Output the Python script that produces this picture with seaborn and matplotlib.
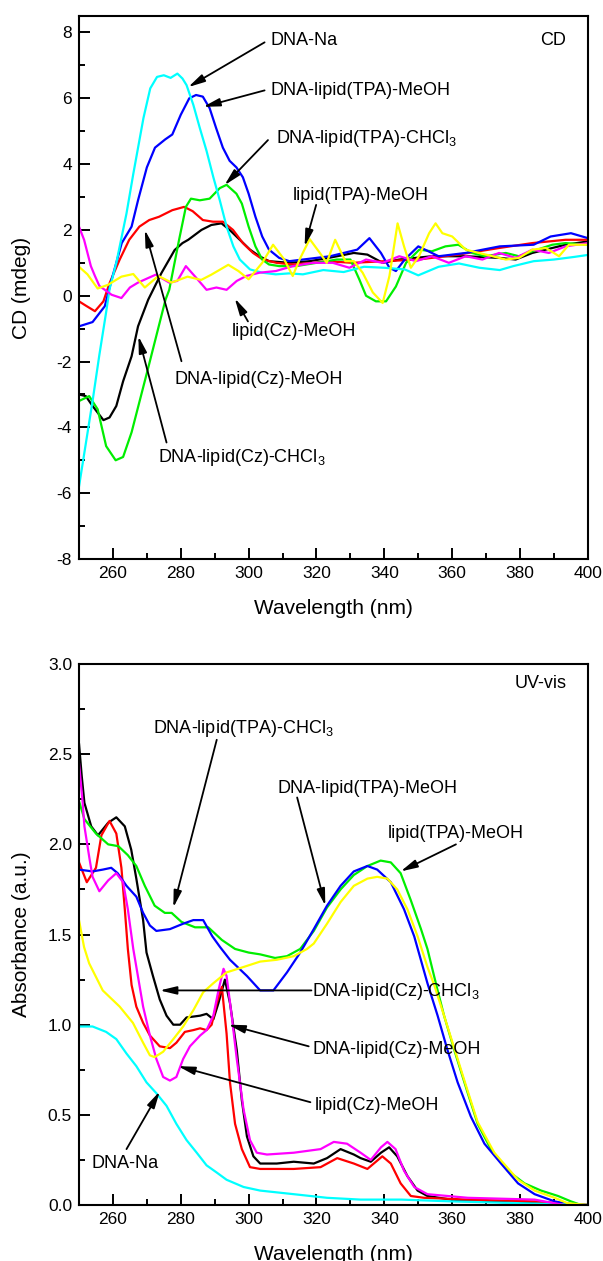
import matplotlib
matplotlib.use("Agg")
import matplotlib.pyplot as plt
from matplotlib.ticker import MultipleLocator, FormatStrFormatter
import pandas as pd
import seaborn as sns

# ---------------- sample names and colours ----------------
samples = ["DNA-lipid(Cz)-CHCl3", "DNA-lipid(Cz)-MeOH", "DNA-lipid(TPA)-CHCl3",
           "DNA-lipid(TPA)-MeOH", "DNA-Na", "lipid(Cz)-MeOH", "lipid(TPA)-MeOH"]
colors = ["#000000", "#FF0000", "#00EE00", "#0000FF", "#00FFFF", "#FF00FF", "#FFFF00"]

# ---------------- CD spectra (mdeg) ----------------
cd_na_wl = [250, 252, 254, 256, 258, 259, 261, 264, 266, 269, 271, 273, 275, 277, 279, 280.5,
            281.7, 283.7, 285.6, 287.6, 289.6, 291.5, 293.5, 295.5, 297.4, 300.4, 304, 308, 312,
            316, 322, 328, 334, 340, 346, 350, 356, 362, 368, 374, 378, 384, 390, 396, 400]
cd_na = [-5.8, -4.5, -3.2, -1.8, -0.5, 0.2, 1.0, 2.5, 3.7, 5.4, 6.3, 6.65, 6.7, 6.62, 6.75, 6.6,
         6.4, 5.8, 5.1, 4.4, 3.6, 2.9, 2.1, 1.5, 1.1, 0.8, 0.7, 0.65, 0.68,
         0.65, 0.78, 0.72, 0.88, 0.85, 0.8, 0.62, 0.88, 0.98, 0.85, 0.78, 0.9, 1.05, 1.1, 1.18, 1.24]

cd_tpa_meoh_wl = [250, 254, 257.6, 259.6, 262.6, 265.5, 267.4, 270, 272.4, 275.4, 277.5, 280, 282.5,
                  284.5, 286.5, 288.5, 290.4, 292.4, 294.4, 296.4, 298.3, 300, 302, 304, 306, 309,
                  312, 316, 320, 324, 328, 332, 335.6, 339, 341.5, 343.4, 346, 350, 356, 364, 374,
                  384, 389, 395, 400]
cd_tpa_meoh = [-0.93, -0.8, -0.32, 0.48, 1.6, 2.1, 2.9, 3.9, 4.5, 4.75, 4.9, 5.5, 6.0,
               6.1, 6.05, 5.7, 5.1, 4.5, 4.1, 3.9, 3.6, 3.1, 2.4, 1.8, 1.4, 1.15,
               1.05, 1.1, 1.15, 1.2, 1.3, 1.4, 1.75, 1.3, 0.85, 0.75, 1.1, 1.5, 1.2, 1.3, 1.5,
               1.55, 1.8, 1.9, 1.75]

cd_tpa_chcl3_wl = [250, 253, 255.5, 258, 260.8, 263, 265.5, 268.5, 270.5, 273.5, 275.5, 276.6,
                   279.5, 281.5, 283, 285.6, 288.5, 291.5, 293.5, 296.4, 298, 300, 302, 304, 306,
                   309, 314, 320, 326, 330, 332.6, 334.6, 337.5, 340.5, 343.4, 346.4, 350.3, 354,
                   358, 361.8, 365.8, 369.7, 375.8, 379.7, 383.6, 389.5, 393.4, 400]
cd_tpa_chcl3 = [-3.2, -3.05, -3.45, -4.57, -5.0, -4.9, -4.15, -2.95, -2.15, -0.93, -0.12, 0.18,
                1.7, 2.7, 2.95, 2.9, 2.95, 3.27, 3.37, 3.1, 2.8, 2.1, 1.5, 1.1, 0.95,
                0.9, 0.9, 1.0, 1.1, 1.1, 0.5, 0.0, -0.17, -0.17, 0.28, 1.0, 1.4, 1.35,
                1.5, 1.55, 1.3, 1.2, 1.3, 1.2, 1.35, 1.55, 1.6, 1.55]

cd_cz_meoh_wl = [250, 252, 254.7, 257.2, 259, 262, 264.8, 267.8, 270.7, 273.6, 277.5, 281, 283.5,
                 286.5, 289.5, 292.4, 295.4, 298.3, 301.3, 304.2, 308.2, 313, 319, 323, 330.6,
                 340, 350, 361.8, 373.8, 383.6, 393.4, 400]
cd_cz_meoh = [-0.17, -0.3, -0.47, -0.17, 0.38, 1.1, 1.7, 2.1, 2.3, 2.4, 2.6, 2.7, 2.57,
              2.3, 2.25, 2.25, 2.0, 1.6, 1.3, 1.1, 1.0, 0.95, 1.0, 1.05, 1.0,
              1.05, 1.1, 1.25, 1.45, 1.6, 1.7, 1.7]

cd_cz_chcl3_wl = [250, 252, 254, 257.2, 259, 261, 263, 265.5, 267.4, 270.4, 274.3, 278.2, 280.5,
                  282.2, 286.1, 289, 292, 294.4, 297.4, 300.4, 303.2, 306, 312, 318, 323.6, 331,
                  335, 339.5, 344.4, 354, 364, 373.8, 378.7, 383.6, 393.4, 400]
cd_cz_chcl3 = [-3.0, -3.05, -3.35, -3.78, -3.7, -3.35, -2.6, -1.84, -0.93, -0.12, 0.69, 1.39, 1.6,
               1.7, 2.0, 2.15, 2.2, 2.0, 1.7, 1.4, 1.2, 1.05, 1.0, 1.05, 1.15, 1.3,
               1.25, 1.0, 1.1, 1.2, 1.2, 1.15, 1.1, 1.3, 1.55, 1.65]

cd_lip_tpa_wl = [250, 252.5, 255.5, 258.5, 262.5, 266, 269.4, 273.4, 277.3, 282, 286, 289, 294,
                 297, 300, 304, 307.2, 310.5, 313, 315, 318, 321, 323, 325.5, 328.5, 331, 333.6,
                 336.6, 339.5, 341.5, 343.9, 345.8, 347.8, 350.2, 353.2, 355.1, 357.1, 360, 364,
                 367.9, 371.9, 375.8, 379.7, 383.6, 387.6, 391.5, 394.4, 400]
cd_lip_tpa = [0.88, 0.65, 0.22, 0.33, 0.58, 0.66, 0.25, 0.6, 0.4, 0.58, 0.48, 0.64, 0.94,
              0.75, 0.5, 1.0, 1.55, 1.1, 0.6, 1.1, 1.72, 1.3, 1.0, 1.7, 1.05, 1.05, 0.7,
              0.1, -0.22, 0.6, 2.2, 1.5, 0.85, 1.2, 1.9, 2.2, 1.9, 1.8, 1.4,
              1.3, 1.2, 1.1, 1.15, 1.4, 1.45, 1.2, 1.55, 1.55]

cd_lip_cz_wl = [250, 251.5, 253.5, 254.7, 256, 259.6, 262.5, 265, 267.4, 272.6, 276.6, 279,
                281.5, 284.5, 287.6, 290.5, 293.5, 296.5, 299.3, 303.2, 308, 313, 319, 324.8,
                329.7, 334.6, 339.5, 344.4, 349.3, 354, 359, 364, 368.9, 373.8, 378.7, 383.6,
                388.5, 393.4, 400]
cd_lip_cz = [2.1, 1.7, 0.9, 0.6, 0.3, 0.03, -0.07, 0.25, 0.4, 0.64, 0.4, 0.45,
             0.9, 0.55, 0.18, 0.25, 0.18, 0.45, 0.6, 0.7, 0.75, 0.9, 1.0, 1.0,
             0.85, 1.1, 1.0, 1.2, 1.05, 1.2, 1.0, 1.2, 1.1, 1.3, 1.15, 1.4,
             1.3, 1.5, 1.6]

# ---------------- UV-vis absorbance (a.u.) ----------------
uv_cz_chcl3_wl = [250, 250.8, 251.6, 253.6, 255.6, 258.6, 261, 263.5, 265.4, 266.9, 268.9, 269.9,
                  271.8, 273.8, 275.8, 277.8, 279.8, 281.7, 285.7, 287.6, 289.6, 291.1, 293.0,
                  294.5, 296.5, 298, 299.5, 301.4, 303.4, 308.3, 313.3, 319.2, 323.1, 327.1, 331,
                  333, 336, 339, 341.4, 343.8, 346.8, 349.8, 352.7, 359.6, 369.5, 384.3, 400]
uv_cz_chcl3 = [2.56, 2.38, 2.23, 2.1, 2.05, 2.12, 2.15, 2.1, 1.97, 1.81, 1.58, 1.4,
               1.27, 1.14, 1.05, 1.0, 1.0, 1.04, 1.05, 1.06, 1.03, 1.12, 1.25,
               1.12, 0.86, 0.58, 0.38, 0.27, 0.23, 0.23, 0.24, 0.23, 0.26, 0.31, 0.28,
               0.26, 0.24, 0.29, 0.32, 0.27, 0.16, 0.08, 0.05, 0.03, 0.02, 0.01, 0.0]

uv_cz_meoh_wl = [250, 252.3, 255, 256.6, 259, 261, 262.5, 263.5, 264.4, 265.5, 266.9, 268.9,
                 270.9, 273.8, 276.8, 278.7, 281.2, 283.7, 285.7, 287.6, 289.1, 290.6, 292.1,
                 293.5, 294.5, 296, 298, 300.4, 303.4, 313.3, 321.2, 326.1, 331, 335, 339.4,
                 341.9, 344.8, 347.8, 351.7, 364.6, 384.3, 400]
uv_cz_meoh = [1.9, 1.79, 1.87, 2.05, 2.13, 2.06, 1.87, 1.64, 1.42, 1.22, 1.1, 1.01,
              0.94, 0.88, 0.87, 0.9, 0.96, 0.97, 0.98, 0.97, 1.0, 1.12, 1.21,
              0.95, 0.68, 0.45, 0.31, 0.21, 0.2, 0.2, 0.21, 0.26, 0.23, 0.2, 0.27,
              0.23, 0.12, 0.05, 0.04, 0.03, 0.02, 0.0]

uv_tpa_chcl3_wl = [250, 251.6, 255, 258.6, 261.6, 264.4, 266.9, 269.4, 272.3, 275.3, 277.3, 280.2,
                   284.2, 288.1, 292.1, 296, 300, 303.4, 307.8, 311.3, 315.2, 319.2, 323.1, 327.1,
                   331, 335, 338.9, 341.9, 344.8, 347.8, 350.8, 352.7, 355.7, 357.6, 360.6, 364.6,
                   367.5, 371.4, 376.4, 381.3, 386.2, 391.2, 395, 398, 400]
uv_tpa_chcl3 = [2.24, 2.14, 2.06, 2.0, 1.99, 1.94, 1.88, 1.77, 1.66, 1.62, 1.62, 1.57,
                1.54, 1.54, 1.47, 1.42, 1.4, 1.39, 1.37, 1.38, 1.42, 1.52, 1.65, 1.75,
                1.83, 1.88, 1.91, 1.9, 1.84, 1.69, 1.53, 1.42, 1.19, 1.05, 0.86, 0.62,
                0.45, 0.31, 0.19, 0.12, 0.08, 0.05, 0.02, 0.0, 0.0]

uv_tpa_meoh_wl = [250, 254, 257, 259.5, 261.4, 264, 266.9, 268.9, 270.9, 272.8, 276.8, 280.7,
                  283.7, 286.6, 289.3, 291.6, 294.5, 299.5, 303.4, 307.3, 311.3, 315.2, 319.2,
                  323.1, 327.1, 331, 335, 337.9, 341.9, 345.8, 348.8, 352.7, 355.7, 358.6, 361.6,
                  365.5, 369.5, 374.4, 379.4, 384.3, 390.2, 396, 400]
uv_tpa_meoh = [1.86, 1.85, 1.86, 1.87, 1.84, 1.77, 1.71, 1.62, 1.55, 1.52, 1.53, 1.56,
               1.58, 1.58, 1.49, 1.43, 1.36, 1.27, 1.19, 1.19, 1.29, 1.4, 1.53,
               1.66, 1.77, 1.85, 1.88, 1.86, 1.79, 1.64, 1.49, 1.23, 1.05, 0.86, 0.68,
               0.49, 0.34, 0.23, 0.12, 0.06, 0.02, 0.0, 0.0]

uv_na_wl = [250, 254, 258, 261, 264, 266.9, 269.9, 272.8, 275.8, 278.7, 281.7, 284.7, 287.6,
            290.6, 293.5, 298.5, 303.4, 313.3, 323.1, 333, 345, 360, 380, 400]
uv_na = [0.99, 0.99, 0.96, 0.92, 0.84, 0.77, 0.68, 0.62, 0.55, 0.45, 0.36, 0.29, 0.22,
         0.18, 0.14, 0.1, 0.08, 0.06, 0.04, 0.03, 0.03, 0.02, 0.01, 0.0]

uv_lip_cz_wl = [250, 251, 251.6, 253.1, 254, 256, 258.6, 261, 263, 264.4, 266, 268.9, 270.9,
                272.8, 274.8, 276.8, 278.7, 280.7, 282.7, 285.7, 287.6, 289.6, 291.1, 292.6,
                293.5, 295, 296.5, 298.5, 300.4, 302.4, 305.4, 313.3, 321.2, 325.1, 329, 333,
                336, 339, 340.9, 343.3, 345.8, 348.8, 352.7, 364.6, 384.3, 393, 400]
uv_lip_cz = [2.45, 2.25, 2.1, 1.92, 1.82, 1.74, 1.8, 1.84, 1.79, 1.64, 1.42, 1.1, 0.94,
             0.81, 0.71, 0.69, 0.71, 0.81, 0.88, 0.94, 0.97, 1.05, 1.19, 1.31,
             1.27, 1.05, 0.81, 0.53, 0.36, 0.29, 0.28, 0.29, 0.31, 0.35, 0.34, 0.29,
             0.25, 0.32, 0.35, 0.31, 0.19, 0.1, 0.06, 0.04, 0.03, 0.0, 0.0]

uv_lip_tpa_wl = [250, 251.5, 253, 257, 262, 265.9, 268.9, 270.9, 272.3, 274.8, 277.8, 280.7,
                 283.7, 286.6, 289.6, 293.5, 298.5, 303.4, 308.3, 313.3, 317.2, 319.2, 323.1,
                 327.1, 331, 335, 337.9, 340.9, 343.8, 346.8, 349.8, 352.7, 354.7, 357.6, 360.6,
                 364.6, 367.5, 372.4, 379.4, 384.3, 390.2, 394, 400]
uv_lip_tpa = [1.58, 1.43, 1.34, 1.19, 1.1, 1.01, 0.9, 0.83, 0.82, 0.85, 0.92, 0.99,
              1.08, 1.18, 1.23, 1.29, 1.32, 1.35, 1.36, 1.38, 1.42, 1.45, 1.56,
              1.68, 1.77, 1.81, 1.82, 1.81, 1.75, 1.64, 1.49, 1.32, 1.22, 1.05, 0.87,
              0.63, 0.46, 0.29, 0.14, 0.08, 0.04, 0.01, 0.0]

cd_series = {
    "DNA-lipid(Cz)-CHCl3": (cd_cz_chcl3_wl, cd_cz_chcl3),
    "DNA-lipid(Cz)-MeOH": (cd_cz_meoh_wl, cd_cz_meoh),
    "DNA-lipid(TPA)-CHCl3": (cd_tpa_chcl3_wl, cd_tpa_chcl3),
    "DNA-lipid(TPA)-MeOH": (cd_tpa_meoh_wl, cd_tpa_meoh),
    "DNA-Na": (cd_na_wl, cd_na),
    "lipid(Cz)-MeOH": (cd_lip_cz_wl, cd_lip_cz),
    "lipid(TPA)-MeOH": (cd_lip_tpa_wl, cd_lip_tpa),
}
uv_series = {
    "DNA-lipid(Cz)-CHCl3": (uv_cz_chcl3_wl, uv_cz_chcl3),
    "DNA-lipid(Cz)-MeOH": (uv_cz_meoh_wl, uv_cz_meoh),
    "DNA-lipid(TPA)-CHCl3": (uv_tpa_chcl3_wl, uv_tpa_chcl3),
    "DNA-lipid(TPA)-MeOH": (uv_tpa_meoh_wl, uv_tpa_meoh),
    "DNA-Na": (uv_na_wl, uv_na),
    "lipid(Cz)-MeOH": (uv_lip_cz_wl, uv_lip_cz),
    "lipid(TPA)-MeOH": (uv_lip_tpa_wl, uv_lip_tpa),
}


def long_frame(series):
    parts = [pd.DataFrame({"wl": wl, "val": v, "sample": name})
             for name, (wl, v) in series.items()]
    return pd.concat(parts, ignore_index=True)


sns.set_style("white")
plt.rcParams["font.family"] = ["Liberation Sans", "DejaVu Sans"]
plt.rcParams["mathtext.default"] = "regular"
plt.rcParams["axes.unicode_minus"] = False
for key in ("text.color", "axes.labelcolor", "xtick.color", "ytick.color",
            "xtick.labelcolor", "ytick.labelcolor"):
    plt.rcParams[key] = "black"

fig = plt.figure(figsize=(6.03, 12.61), dpi=100)
ax_cd = fig.add_axes([0.131, 0.5567, 0.844, 0.4306])
ax_uv = fig.add_axes([0.131, 0.0444, 0.844, 0.4290])

palette = dict(zip(samples, colors))
for ax, series in ((ax_cd, cd_series), (ax_uv, uv_series)):
    sns.lineplot(data=long_frame(series), x="wl", y="val", hue="sample",
                 hue_order=samples, palette=palette, estimator=None, sort=False,
                 linewidth=1.6, legend=False, ax=ax,
                 solid_joinstyle="round", solid_capstyle="round")
    ax.set_xlim(250, 400)
    ax.xaxis.set_major_locator(MultipleLocator(20))
    ax.xaxis.set_minor_locator(MultipleLocator(10))
    ax.tick_params(which="both", direction="in", bottom=True, left=True,
                   top=False, right=False, labelsize=12.5, color="black",
                   labelcolor="black")
    ax.tick_params(which="major", length=8, width=1.4, pad=5)
    ax.tick_params(which="minor", length=4, width=1.4)
    for sp in ax.spines.values():
        sp.set_linewidth(1.5)
        sp.set_color("black")
    ax.set_xlabel("Wavelength (nm)", fontsize=15, color="black")
    ax.xaxis.set_label_coords(0.5, -0.073)
    ax.xaxis.label.set_va("top")

# CD panel axes
ax_cd.set_ylim(-8, 8.5)
ax_cd.yaxis.set_major_locator(MultipleLocator(2))
ax_cd.yaxis.set_minor_locator(MultipleLocator(1))
ax_cd.yaxis.set_major_formatter(FormatStrFormatter("%d"))
ax_cd.set_ylabel("CD (mdeg)", fontsize=15, color="black")
ax_cd.yaxis.set_label_coords(-0.095, 0.5)

# UV-vis panel axes
ax_uv.set_ylim(0, 3.0)
ax_uv.yaxis.set_major_locator(MultipleLocator(0.5))
ax_uv.yaxis.set_minor_locator(MultipleLocator(0.25))
ax_uv.yaxis.set_major_formatter(FormatStrFormatter("%.1f"))
ax_uv.set_ylabel("Absorbance (a.u.)", fontsize=15, color="black")
ax_uv.yaxis.set_label_coords(-0.095, 0.5)

arrow = dict(arrowstyle="-|>,head_length=0.5,head_width=0.12", color="black",
             lw=1.3, shrinkA=0, shrinkB=0, mutation_scale=20)


def label(ax, text, text_xy, start, tip):
    ax.text(text_xy[0], text_xy[1], text, fontsize=13, ha="left", va="center",
            color="black")
    ax.annotate("", xy=tip, xytext=start, arrowprops=arrow)


# CD labels
label(ax_cd, "DNA-Na", (306.4, 7.76), (304.7, 7.7), (282.2, 6.34))
label(ax_cd, "DNA-lipid(TPA)-MeOH", (306.4, 6.24), (304.7, 6.24), (286.6, 5.74))
label(ax_cd, "DNA-lipid(TPA)-CHCl$_3$", (308.0, 4.79), (305.7, 4.73), (292.9, 3.36))
label(ax_cd, "lipid(TPA)-MeOH", (313.0, 3.06), (319.9, 2.76), (316.5, 1.5))
label(ax_cd, "lipid(Cz)-MeOH", (295.0, -1.08), (299.8, -0.78), (295.9, -0.08))
label(ax_cd, "DNA-lipid(Cz)-MeOH", (278.2, -2.55), (280.2, -1.99), (269.4, 2.0))
label(ax_cd, "DNA-lipid(Cz)-CHCl$_3$", (273.3, -4.92), (275.8, -4.46), (267.5, -1.23))
ax_cd.text(393.5, 7.76, "CD", fontsize=13, ha="right", va="center", color="black")

# UV-vis labels
label(ax_uv, "DNA-lipid(TPA)-CHCl$_3$", (271.8, 2.64), (290.6, 2.58), (277.8, 1.65))
label(ax_uv, "DNA-lipid(TPA)-MeOH", (308.5, 2.31), (314.3, 2.26), (322.6, 1.66))
label(ax_uv, "lipid(TPA)-MeOH", (341.1, 2.06), (361.1, 2.0), (344.8, 1.85))
label(ax_uv, "DNA-lipid(Cz)-CHCl$_3$", (318.7, 1.185), (318.5, 1.19), (273.8, 1.19))
label(ax_uv, "DNA-lipid(Cz)-MeOH", (318.7, 0.86), (317.7, 0.88), (294.0, 1.0))
label(ax_uv, "lipid(Cz)-MeOH", (319.4, 0.55), (318.2, 0.57), (279.2, 0.77))
label(ax_uv, "DNA-Na", (253.6, 0.23), (264.0, 0.31), (273.8, 0.63))
ax_uv.text(393.6, 2.89, "UV-vis", fontsize=13, ha="right", va="center", color="black")

fig.savefig("out.png", dpi=100)
